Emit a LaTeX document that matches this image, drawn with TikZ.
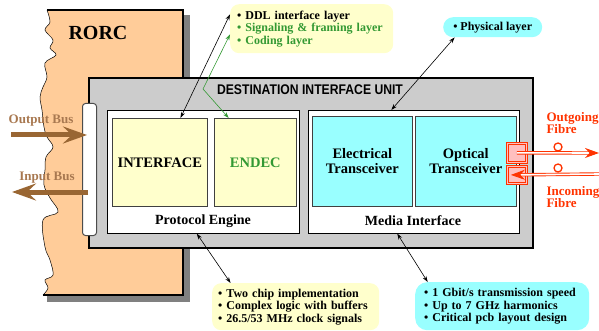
\documentclass[tikz,border=0pt]{standalone}
\usepackage{fontspec}
\setmainfont{Liberation Serif}
\setsansfont{Liberation Sans}
\usetikzlibrary{arrows.meta}
\definecolor{rorcorange}{RGB}{255,204,153}
\definecolor{diugray}{RGB}{204,204,204}
\definecolor{chipyellow}{RGB}{255,255,204}
\definecolor{chipcyan}{RGB}{153,255,255}
\definecolor{layergreen}{RGB}{51,153,51}
\definecolor{busbrown}{RGB}{153,102,51}
\definecolor{bustext}{RGB}{168,120,80}
\definecolor{fibrered}{RGB}{255,51,0}
\begin{document}
\begin{tikzpicture}[x=1pt,y=-1pt,every node/.style={font=\bfseries},
	unit box/.style={draw=black,line width=1.6pt,fill=diugray,anchor=north west,inner sep=0pt},
	engine box/.style={draw=black,line width=0.6pt,fill=white,anchor=north west,inner sep=0pt},
	chip box/.style={draw=black!75,line width=0.6pt,anchor=north west,inner sep=0pt,align=center,font=\fontsize{14.5}{15}\selectfont\bfseries},
	part title/.style={font=\fontsize{14}{14}\selectfont\bfseries},
	note/.style={rounded corners=9pt,anchor=north west,inner xsep=7pt,inner ysep=0pt,align=left,font=\fontsize{12}{12.5}\selectfont\bfseries},
	fibre plug/.style={draw=fibrered,double=red!25,double distance=1pt,line width=0.7pt,fill=red!25,anchor=north west,inner sep=0pt,minimum width=19pt},
	fibre ring/.style={circle,draw=fibrered,line width=1.3pt,minimum size=8pt,inner sep=0pt},
	link/.style={{Stealth[length=6pt,width=4pt]}-{Stealth[length=6pt,width=4pt]},line width=0.6pt},
	bus arrow/.style={-{Stealth[length=24pt,width=17pt,inset=9pt]},line width=5pt,draw=busbrown},
	fibre/.style={draw=fibrered,double=white,line width=0.9pt,double distance=1.6pt,-{Stealth[length=14pt,width=10pt]}}]
		\useasboundingbox (0,0) rectangle (599,331);
		% RORC board with torn left edge
		\fill[black!50] (183,15) rectangle (190,302);
		\fill[black!50] (47,295) rectangle (190,302);
		\fill[rorcorange] plot[smooth,tension=0.6] coordinates {(47,10) (50,22) (45,30) (53,40) (50,48) (56,55) (45,63) (47,77) (43,87) (40,97) (42,110) (44,127) (47,137) (53,147) (46,157) (45,170) (44,185) (50,198) (58,212) (43,220) (45,247) (50,260) (53,275) (45,280) (48,288) (43,295)} -- (183,295) -- (183,10) -- cycle;
		\draw[line width=0.5pt] plot[smooth,tension=0.6] coordinates {(47,10) (50,22) (45,30) (53,40) (50,48) (56,55) (45,63) (47,77) (43,87) (40,97) (42,110) (44,127) (47,137) (53,147) (46,157) (45,170) (44,185) (50,198) (58,212) (43,220) (45,247) (50,260) (53,275) (45,280) (48,288) (43,295)};
		\draw[line width=1.8pt] (47,10) -- (183,10) -- (183,295) -- (43,295);
		\node[font=\fontsize{20}{20}\selectfont\bfseries] (rorc) at (98,33) {RORC};
		% destination interface unit
		\node[unit box,minimum width=444pt,minimum height=170pt] (diu) at (88,77) {};
		\node[font=\sffamily\bfseries\fontsize{14}{14}\selectfont] (title) at (310,90) {\scalebox{0.87}[1]{DESTINATION INTERFACE UNIT}};
		\node[engine box,minimum width=192pt,minimum height=123pt] (proto) at (107,110) {};
		\node[engine box,minimum width=211pt,minimum height=123pt] (media) at (308,110) {};
		\node[chip box,fill=chipyellow,minimum width=95pt,minimum height=88pt] (iface) at (112,118) {INTERFACE};
		\node[chip box,fill=chipyellow,text=layergreen,minimum width=82pt,minimum height=88pt] (endec) at (214,118) {ENDEC};
		\node[chip box,fill=chipcyan,minimum width=100pt,minimum height=90pt] (elec) at (312,116) {Electrical\\Transceiver};
		\node[chip box,fill=chipcyan,minimum width=101pt,minimum height=90pt] (optic) at (415,116) {Optical\\Transceiver};
		\node[part title] (protolabel) at (203,221) {Protocol Engine};
		\node[part title] (medialabel) at (413,221) {Media Interface};
		% bus bar and buses
		\node[draw=black!70,line width=1pt,fill=white,rounded corners=3pt,anchor=north west,minimum width=14pt,minimum height=132pt,inner sep=0pt] (bus) at (82,103) {};
		\coordinate (outstart) at (11,135);
		\coordinate (inend) at (12,192);
		\draw[bus arrow,shorten >=-5pt] (outstart) -- (bus.west |- outstart);
		\draw[bus arrow,shorten <=-6pt] (bus.west |- inend) -- (inend);
		\node[text=bustext,font=\fontsize{13}{13}\selectfont\bfseries] (outlabel) at (41,121) {Output Bus};
		\node[text=bustext,font=\fontsize{13}{13}\selectfont\bfseries] (inlabel) at (47,178) {Input Bus};
		% fibres
		\node[fibre plug,minimum height=19pt] (outplug) at (507,143) {};
		\node[fibre plug,minimum height=17pt] (inplug) at (507,166) {};
		\coordinate (outfibre) at (599,153);
		\coordinate (infibre) at (599,174);
		\draw[fibre] (outplug.center) -- (outfibre);
		\draw[fibre,shorten >=-6pt] (infibre) -- (inplug.center);
		\node[fibre ring] (outring) at (558,147) {};
		\node[fibre ring] (inring) at (558,168) {};
		\node[text=fibrered,align=left,anchor=west,font=\fontsize{13}{12.5}\selectfont\bfseries] (outtext) at (543,123) {Outgoing\\Fibre};
		\node[text=fibrered,align=left,anchor=west,font=\fontsize{13}{12.5}\selectfont\bfseries] (intext) at (543,197) {Incoming\\Fibre};
		% layer notes
		\node[note,fill=chipyellow,text width=149pt,minimum height=49pt] (layers) at (230,4) {• DDL interface layer\\\textcolor{layergreen}{• Signaling \& framing layer}\\\textcolor{layergreen}{• Coding layer}};
		\node[note,fill=chipcyan,rounded corners=10pt,minimum width=99pt,minimum height=20pt,align=center] (phys) at (443,17) {• Physical layer};
		\node[note,fill=chipyellow,inner xsep=6pt,text width=155pt,minimum height=47pt] (chipnotes) at (212,283) {• Two chip implementation\\• Complex logic with buffers\\• 26.5/53 MHz clock signals};
		\node[note,fill=chipcyan,inner xsep=9pt,text width=156pt,minimum height=48pt,rounded corners=12pt] (linknotes) at (415,282) {• 1 Gbit/s transmission speed\\• Up to 7 GHz harmonics\\• Critical pcb layout design};
		% connectors
		\coordinate (bend) at (203,89);
		\draw[link] (iface.65) -- (layers.170);
		\draw[link,draw=layergreen] (layers.184) -- (bend) -- (endec.121);
		\draw[link] (media.110) -- (phys.195);
		\draw[link] (proto.264) -- (chipnotes.160);
		\draw[link] (media.255) -- (linknotes.162);
\end{tikzpicture}
\end{document}
